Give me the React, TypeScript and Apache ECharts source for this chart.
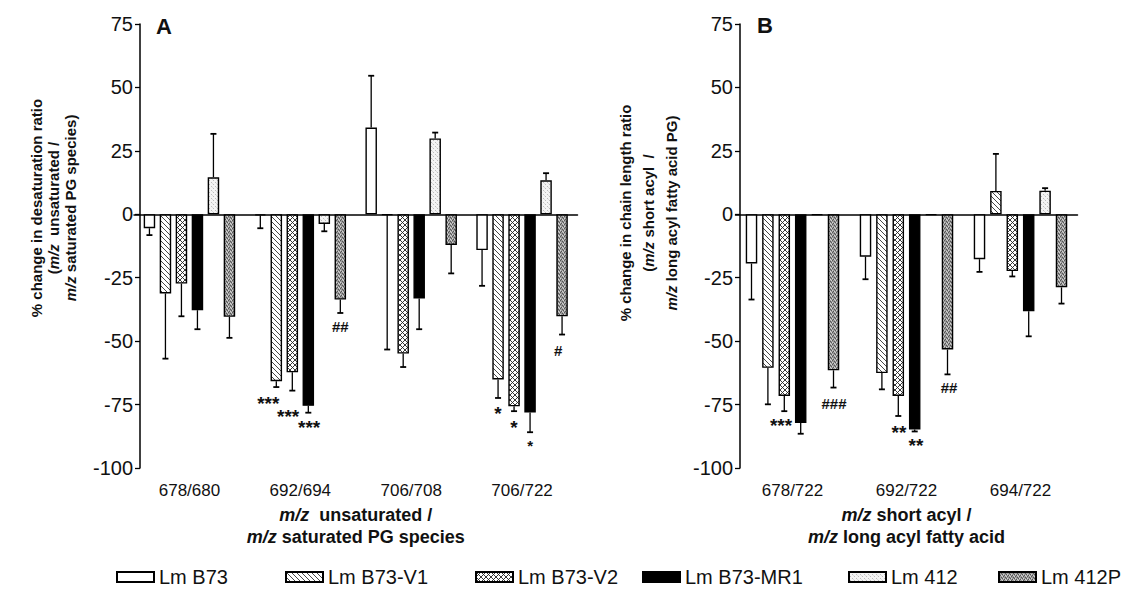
import React, { useEffect, useRef } from 'react';
import * as echarts from 'echarts';

// ---------- data ----------
const categoriesA = ['678/680', '692/694', '706/708', '706/722'];
const categoriesB = ['678/722', '692/722', '694/722'];
const strains = ['Lm B73', 'Lm B73-V1', 'Lm B73-V2', 'Lm B73-MR1', 'Lm 412', 'Lm 412P'];

// Panel A: % change in desaturation ratio (mean) and error
const meanA_B73 = [-5.5, -0.5, 34.2, -14.1];
const errA_B73 = [2.7, 5, 20.4, 14.1];
const meanA_V1 = [-31.2, -65.8, -0.3, -65.1];
const errA_V1 = [25.7, 2.3, 53, 7.3];
const meanA_V2 = [-27.3, -62.3, -54.9, -75.7];
const errA_V2 = [12.9, 7.2, 5.3, 1.9];
const meanA_MR1 = [-37.8, -75.5, -33.2, -78.1];
const errA_MR1 = [7.5, 2.7, 12.1, 7.8];
const meanA_412 = [14.6, -3.8, 29.9, 13.4];
const errA_412 = [17.1, 2.9, 2.3, 2.8];
const meanA_412P = [-40.4, -33.6, -12.1, -40.2];
const errA_412P = [8.3, 5.3, 11.2, 7.2];

// Panel B: % change in chain length ratio
const meanB_B73 = [-19.4, -16.7, -17.7];
const errB_B73 = [14.2, 8.9, 5];
const meanB_V1 = [-60.5, -62.6, 9.2];
const errB_V1 = [14.4, 6.4, 14.6];
const meanB_V2 = [-71.6, -71.6, -22.4];
const errB_V2 = [6, 7.9, 2.1];
const meanB_MR1 = [-82.3, -84.8, -38.2];
const errB_MR1 = [4.2, 0.8, 9.9];
const meanB_412 = [-0.3, -0.3, 9.3];
const errB_412 = [0, 0, 1];
const meanB_412P = [-61.5, -53.3, -28.8];
const errB_412P = [6.8, 9.8, 6.4];

// significance marks: [category index, bar slot, y value, text]
const marksA: [number, number, number, string][] = [
  [1, 0.5, -73, '***'],
  [1, 1.74, -78.1, '***'],
  [1, 3.05, -82.3, '***'],
  [1, 5, -44.1, '##'],
  [3, 1, -76.9, '*'],
  [3, 2, -82.3, '*'],
  [3, 3, -89.4, '*'],
  [3, 4.76, -53.6, '#'],
];
const marksB: [number, number, number, string][] = [
  [0, 1.8, -81.6, '***'],
  [0, 5.03, -74.5, '###'],
  [1, 2.04, -84.4, '**'],
  [1, 3.08, -89.5, '**'],
  [1, 5.09, -68.2, '##'],
];

const meansA = [meanA_B73, meanA_V1, meanA_V2, meanA_MR1, meanA_412, meanA_412P];
const errsA = [errA_B73, errA_V1, errA_V2, errA_MR1, errA_412, errA_412P];
const meansB = [meanB_B73, meanB_V1, meanB_V2, meanB_MR1, meanB_412, meanB_412P];
const errsB = [errB_B73, errB_V1, errB_V2, errB_MR1, errB_412, errB_412P];

// ---------- style ----------
const FONT = '"Liberation Sans", Arial, Helvetica, sans-serif';
const BAR_W = 11.5;
const SPACING_A = 16;
const SPACING_B = 16.4;

function tile(size: number, draw: (ctx: CanvasRenderingContext2D) => void) {
  const c = document.createElement('canvas');
  c.width = size;
  c.height = size;
  const ctx = c.getContext('2d')!;
  draw(ctx);
  return { image: c.toDataURL(), repeat: 'repeat', imageWidth: size, imageHeight: size } as any;
}

function makeFills() {
  const white = '#ffffff';
  const diag = tile(5, (ctx) => {
    ctx.fillStyle = white;
    ctx.fillRect(0, 0, 5, 5);
    ctx.strokeStyle = '#333';
    ctx.lineWidth = 0.9;
    for (let k = -1; k <= 1; k++) {
      ctx.beginPath();
      ctx.moveTo(k * 5, 0);
      ctx.lineTo(k * 5 + 5, 5);
      ctx.stroke();
    }
  });
  const cross = tile(5, (ctx) => {
    ctx.fillStyle = white;
    ctx.fillRect(0, 0, 5, 5);
    ctx.strokeStyle = '#222';
    ctx.lineWidth = 0.9;
    for (let k = -1; k <= 1; k++) {
      ctx.beginPath();
      ctx.moveTo(k * 5, 0);
      ctx.lineTo(k * 5 + 5, 5);
      ctx.stroke();
      ctx.beginPath();
      ctx.moveTo(k * 5 + 5, 0);
      ctx.lineTo(k * 5, 5);
      ctx.stroke();
    }
  });
  const light = tile(4, (ctx) => {
    ctx.fillStyle = '#f4f4f4';
    ctx.fillRect(0, 0, 4, 4);
    ctx.fillStyle = '#bdbdbd';
    ctx.fillRect(1, 0, 1, 1);
    ctx.fillRect(3, 2, 1, 1);
    ctx.fillStyle = '#dcdcdc';
    ctx.fillRect(0, 3, 1, 1);
  });
  const dark = tile(4, (ctx) => {
    ctx.fillStyle = '#9a9a9a';
    ctx.fillRect(0, 0, 4, 4);
    ctx.fillStyle = '#555';
    ctx.fillRect(0, 0, 1, 1);
    ctx.fillRect(2, 1, 1, 1);
    ctx.fillRect(1, 3, 1, 1);
    ctx.fillRect(3, 2, 1, 1);
    ctx.fillStyle = '#d4d4d4';
    ctx.fillRect(2, 3, 1, 1);
    ctx.fillRect(0, 2, 1, 1);
    ctx.fillRect(3, 0, 1, 1);
  });
  return [white, diag, cross, '#000000', light, dark];
}

function buildOption() {
  const fills = makeFills();
  const series: any[] = [];

  const panels = [
    { means: meansA, errs: errsA, spacing: SPACING_A, marks: marksA },
    { means: meansB, errs: errsB, spacing: SPACING_B, marks: marksB },
  ];

  panels.forEach((p, pi) => {
    const gap = ((p.spacing - BAR_W) / BAR_W) * 100 + '%';
    strains.forEach((name, si) => {
      series.push({
        type: 'bar',
        name,
        xAxisIndex: pi,
        yAxisIndex: pi,
        data: p.means[si],
        barWidth: BAR_W,
        barGap: gap,
        itemStyle: { color: fills[si], borderColor: '#000', borderWidth: 1.4 },
        emphasis: { disabled: true },
        silent: true,
        z: 2,
      });
    });
    strains.forEach((_name, si) => {
      const spacing = p.spacing;
      series.push({
        type: 'custom',
        xAxisIndex: pi,
        yAxisIndex: pi,
        silent: true,
        z: 3,
        data: p.means[si].map((v, ci) => [ci, v, p.errs[si][ci]]),
        renderItem: (_params: any, api: any) => {
          const cat = api.value(0);
          const v = api.value(1);
          const e = api.value(2);
          if (!e) return null;
          const sign = v >= 0 ? 1 : -1;
          const p0 = api.coord([cat, v]);
          const p1 = api.coord([cat, v + sign * e]);
          const x = p0[0] + (si - 2.5) * spacing;
          return {
            type: 'group',
            children: [
              { type: 'line', shape: { x1: x, y1: p0[1], x2: x, y2: p1[1] }, style: { stroke: '#000', lineWidth: 1.3 } },
              { type: 'line', shape: { x1: x - 3, y1: p1[1], x2: x + 3, y2: p1[1] }, style: { stroke: '#000', lineWidth: 1.8 } },
            ],
          };
        },
      });
    });
    const marks = p.marks;
    const spacing = p.spacing;
    series.push({
      type: 'custom',
      xAxisIndex: pi,
      yAxisIndex: pi,
      silent: true,
      z: 4,
      data: marks.map((m) => [m[0], m[2]]),
      renderItem: (params: any, api: any) => {
        const m = marks[params.dataIndex];
        const pt = api.coord([api.value(0), api.value(1)]);
        const x = pt[0] + (m[1] - 2.5) * spacing;
        const isStar = m[3].indexOf('*') >= 0;
        const small = pi === 0 && params.dataIndex === 6;
        return {
          type: 'text',
          x,
          y: pt[1] + (isStar ? 4 : 0),
          style: {
            text: m[3],
            fill: '#111',
            fontFamily: FONT,
            fontWeight: 'bold',
            fontSize: isStar ? (small ? 15 : 19) : 15,
            align: 'center',
            verticalAlign: 'middle',
          },
        };
      },
    });
  });

  const yAxisCommon = (offset: number) => ({
    type: 'value',
    min: -100,
    max: 75,
    interval: 25,
    offset,
    splitLine: { show: false },
    axisLine: { show: true, lineStyle: { color: '#000', width: 1.5 } },
    axisTick: { show: true, length: 5, lineStyle: { color: '#000', width: 1.3 } },
    axisLabel: { color: '#111', fontSize: 20, fontFamily: FONT, margin: 7 },
  });

  const xTitleRich = {
    i: { fontSize: 18, fontWeight: 'bold', fontStyle: 'italic', fontFamily: FONT, color: '#111', lineHeight: 22 },
    b: { fontSize: 18, fontWeight: 'bold', fontFamily: FONT, color: '#111', lineHeight: 22 },
  };

  const xAxisCommon = (cats: string[], title: string) => ({
    type: 'category',
    data: cats,
    boundaryGap: true,
    axisLine: { show: true, lineStyle: { color: '#000', width: 1.5 } },
    axisTick: { show: false },
    axisLabel: { color: '#111', fontSize: 17, fontFamily: FONT, margin: 14 },
    name: title,
    nameLocation: 'middle',
    nameGap: 36,
    nameTextStyle: { rich: xTitleRich },
  });

  const yRich = (lh: number) => ({
    n: { fontSize: 15, fontWeight: 'bold', fontFamily: FONT, fill: '#111', lineHeight: lh },
    i: { fontSize: 15, fontWeight: 'bold', fontStyle: 'italic', fontFamily: FONT, fill: '#111', lineHeight: lh },
  });

  const legendLefts = [116, 285, 475, 642, 848, 998];

  return {
    animation: false,
    backgroundColor: '#ffffff',
    grid: [
      { left: 134, top: 24, width: 443.5, height: 444 },
      { left: 735.5, top: 24, width: 342, height: 444 },
    ],
    xAxis: [
      xAxisCommon(categoriesA, '{i|m/z}{b|  unsaturated /}\n{i|m/z}{b| saturated PG species}'),
      xAxisCommon(categoriesB, '{i|m/z}{b| short acyl /}\n{i|m/z}{b| long acyl fatty acid}'),
    ].map((a, i) => ({ ...a, gridIndex: i })),
    yAxis: [yAxisCommon(-6), yAxisCommon(-4.5)].map((a, i) => ({ ...a, gridIndex: i })),
    legend: strains.map((name, i) => ({
      data: [name],
      left: legendLefts[i],
      top: 567,
      padding: 0,
      itemWidth: 37,
      itemHeight: 10,
      icon: 'rect',
      selectedMode: false,
      textStyle: { fontSize: 20, fontFamily: FONT, color: '#111' },
    })),
    graphic: [
      { type: 'text', x: 156, y: 26, style: { text: 'A', fontSize: 22, fontWeight: 'bold', fontFamily: FONT, fill: '#111', verticalAlign: 'middle' } },
      { type: 'text', x: 757, y: 25, style: { text: 'B', fontSize: 22, fontWeight: 'bold', fontFamily: FONT, fill: '#111', verticalAlign: 'middle' } },
      {
        type: 'text',
        x: 53.5,
        y: 208,
        rotation: Math.PI / 2,
        style: {
          text: '{n|% change in desaturation ratio}\n{n|(}{i|m/z}{n|  unsaturated /}\n{i|m/z}{n| saturated PG species)}',
          rich: yRich(17),
          align: 'center',
          verticalAlign: 'middle',
        },
      },
      {
        type: 'text',
        x: 648,
        y: 213,
        rotation: Math.PI / 2,
        style: {
          text: '{n|% change in chain length ratio}\n{n|(}{i|m/z}{n| short acyl  /}\n{i|m/z}{n| long acyl fatty acid PG)}',
          rich: yRich(23),
          align: 'center',
          verticalAlign: 'middle',
        },
      },
    ],
    series,
  };
}

export default function App() {
  const ref = useRef<HTMLDivElement>(null);
  useEffect(() => {
    if (!ref.current) return;
    const chart = echarts.init(ref.current, undefined, { renderer: 'svg' });
    chart.setOption(buildOption() as any);
    return () => chart.dispose();
  }, []);
  return <div ref={ref} style={{ width: 1131, height: 591, position: 'absolute', left: 0, top: 0, background: '#fff' }} />;
}
